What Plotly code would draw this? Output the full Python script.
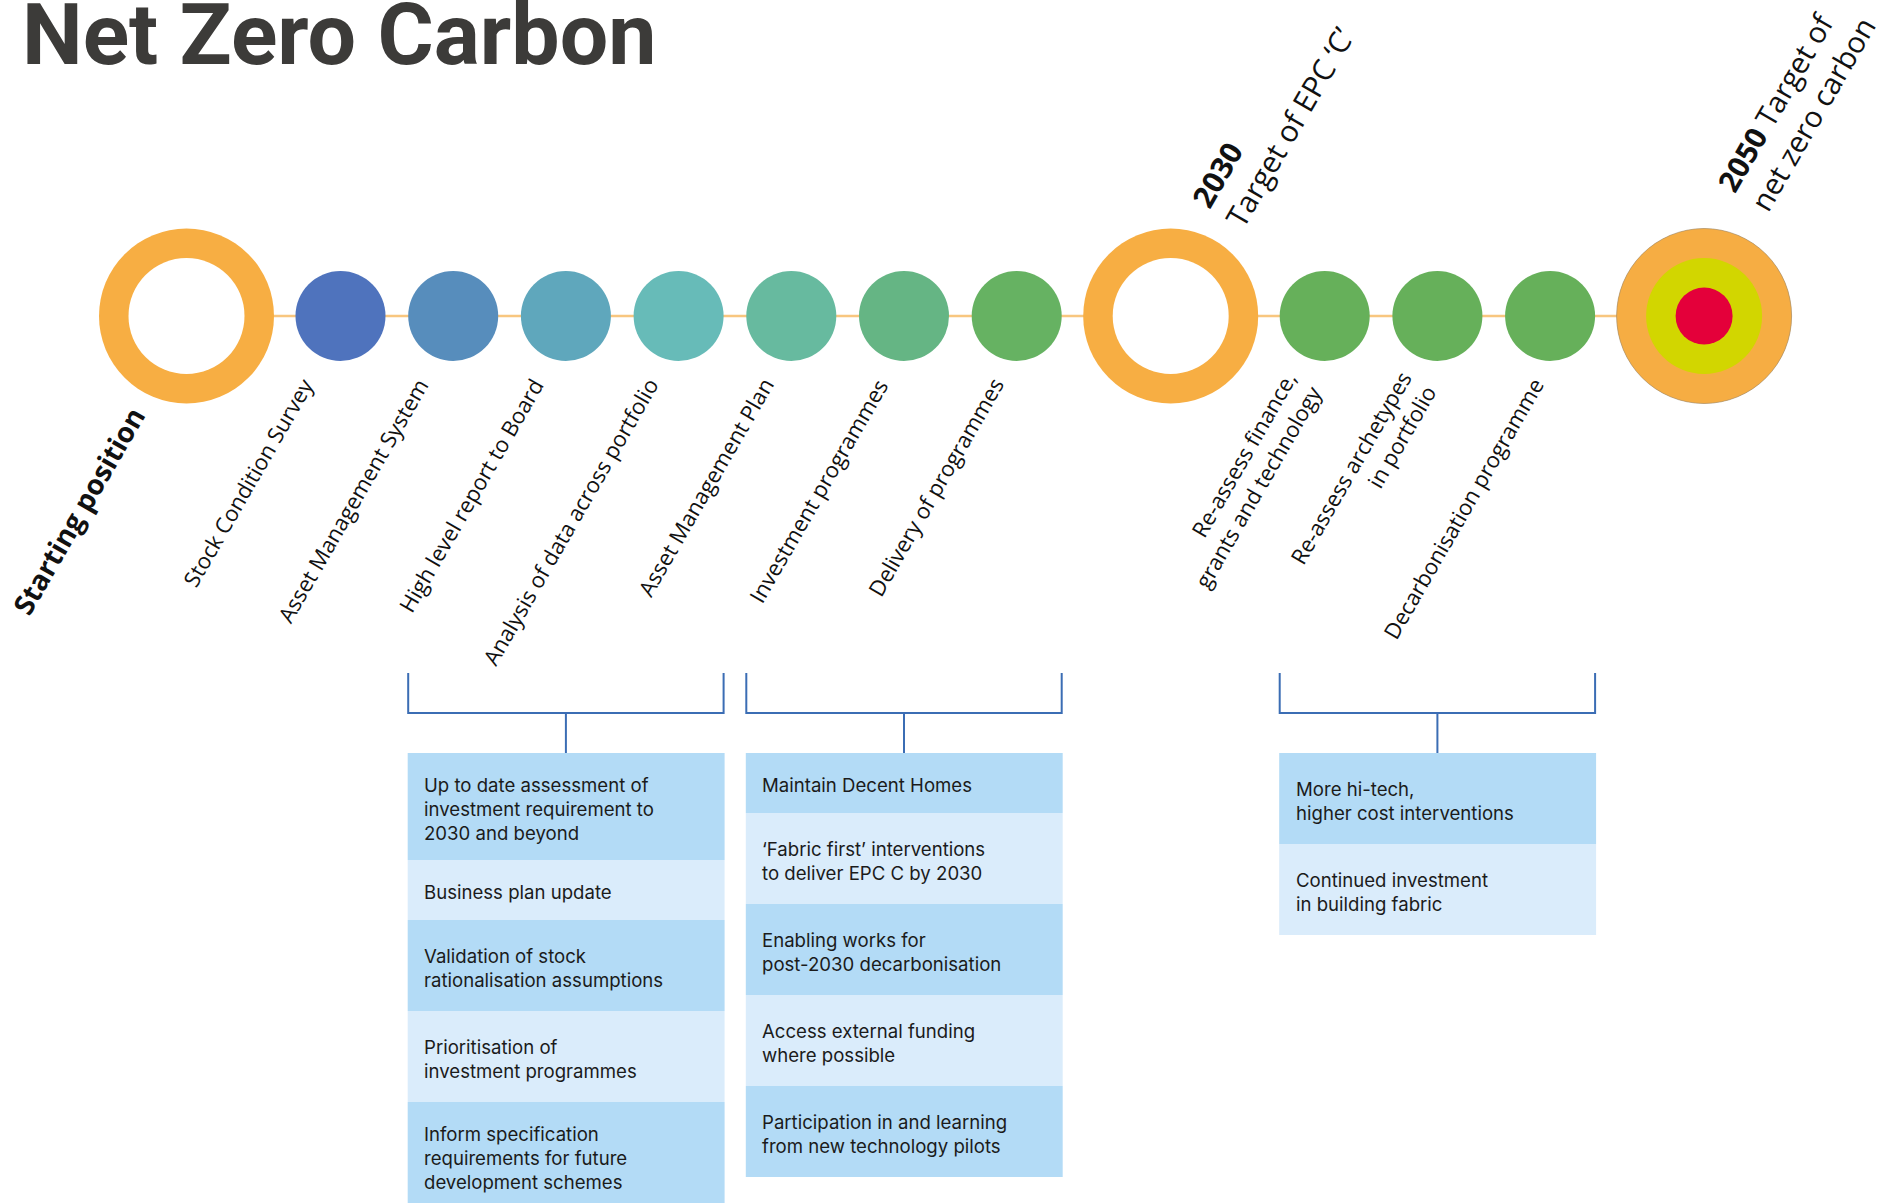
import plotly.graph_objects as go

# ---------------- data ----------------
TITLE = "Net Zero Carbon"

milestone_kinds = ["start", "step", "step", "step", "step", "step", "step", "step",
                   "target", "step", "step", "step", "final"]
milestone_labels = [
    "<b>Starting position</b>",
    "Stock Condition Survey",
    "Asset Management System",
    "High level report to Board",
    "Analysis of data across portfolio",
    "Asset Management Plan",
    "Investment programmes",
    "Delivery of programmes",
    "",
    "Re-assess finance,<br>grants and technology",
    "Re-assess archetypes<br>in portfolio",
    "Decarbonisation programme",
    "",
]
step_colors = ["#f7ae43", "#4f73bd", "#578dbc", "#5fa7bc", "#67bbb8", "#67ba9f", "#65b584",
               "#66b262", "#f7ae43", "#66b05a", "#66b05a", "#66b05a", "#f6ad43"]
target_labels = {
    8: "<b>2030</b><br>Target of EPC ‘C’",
    12: "<b>2050</b> Target of<br>net zero carbon",
}

group_spans = [(2, 4), (5, 7), (9, 11)]
group1_items = [
    "Up to date assessment of<br>investment requirement to<br>2030 and beyond",
    "Business plan update",
    "Validation of stock<br>rationalisation assumptions",
    "Prioritisation of<br>investment programmes",
    "Inform specification<br>requirements for future<br>development schemes",
]
group2_items = [
    "Maintain Decent Homes",
    "‘Fabric first’ interventions<br>to deliver EPC C by 2030",
    "Enabling works for<br>post-2030 decarbonisation",
    "Access external funding<br>where possible",
    "Participation in and learning<br>from new technology pilots",
]
group3_items = [
    "More hi-tech,<br>higher cost interventions",
    "Continued investment<br>in building fabric",
]
groups = [group1_items, group2_items, group3_items]

# ---------------- layout constants ----------------
W, H = 1887, 1203
LINE_Y = 316
R_BIG, R_SMALL = 87.5, 45
GAP_BIG, GAP_SMALL = 21.5, 22.7
LABEL_DRIFT = 2.3          # labels are spaced slightly wider than the circles
X0 = 186.5
LINE_COL = "#f8c67f"
BRACKET_COL = "#3b6db4"
ROW_DARK, ROW_LIGHT = "#b3dbf6", "#daecfb"
ROW_H = {1: 60, 2: 91, 3: 107}
LABEL_FONT = "Open Sans"
BOX_FONT = "Inter"
ANGLE = -60
TOP_OFFSETS = {"target": (9, -R_BIG + 8, 30), "final": (0, -R_BIG - 8, 29.5)}

radii = [R_BIG if k in ("start", "target", "final") else R_SMALL for k in milestone_kinds]
centers = [X0]
for i in range(1, len(radii)):
    gap = GAP_SMALL if (radii[i] == R_SMALL and radii[i - 1] == R_SMALL) else GAP_BIG
    centers.append(centers[-1] + radii[i - 1] + radii[i] + gap)

fig = go.Figure()

# connecting line
fig.add_trace(go.Scatter(x=[centers[0], centers[-1]], y=[LINE_Y, LINE_Y], mode="lines",
                         line=dict(color=LINE_COL, width=2.5), hoverinfo="skip", showlegend=False))

# circles
fig.add_trace(go.Scatter(x=centers, y=[LINE_Y] * len(centers), mode="markers",
                         marker=dict(size=[2 * r for r in radii], color=step_colors, opacity=1,
                                     line=dict(width=0)),
                         hoverinfo="skip", showlegend=False))
ring_idx = [i for i, k in enumerate(milestone_kinds) if k in ("start", "target")]
fig.add_trace(go.Scatter(x=[centers[i] for i in ring_idx], y=[LINE_Y] * len(ring_idx), mode="markers",
                         marker=dict(size=116, color="white", opacity=1, line=dict(width=0)),
                         hoverinfo="skip", showlegend=False))
final_idx = [i for i, k in enumerate(milestone_kinds) if k == "final"]
for i in final_idx:
    fig.add_trace(go.Scatter(x=[centers[i]], y=[LINE_Y], mode="markers",
                             marker=dict(size=2 * R_BIG, color="#f6ad43", opacity=1,
                                         line=dict(width=0.6, color="#9a8a70")),
                             hoverinfo="skip", showlegend=False))
    fig.add_trace(go.Scatter(x=[centers[i]], y=[LINE_Y], mode="markers",
                             marker=dict(size=116, color="#d2d600", opacity=1, line=dict(width=0)),
                             hoverinfo="skip", showlegend=False))
    fig.add_trace(go.Scatter(x=[centers[i]], y=[LINE_Y], mode="markers",
                             marker=dict(size=57, color="#e4003a", opacity=1, line=dict(width=0)),
                             hoverinfo="skip", showlegend=False))

annotations = []
# title
annotations.append(dict(x=20 / W, y=1 + 18 / H, xref="paper", yref="paper", text="<b>" + TITLE + "</b>",
                        showarrow=False, xanchor="left", yanchor="top",
                        font=dict(family="Roboto", size=86, color="#3c3b39", weight=900)))

# milestone labels below
step_no = 0
for i, lab in enumerate(milestone_labels):
    if milestone_kinds[i] == "start":
        annotations.append(dict(x=centers[i] - 31, y=LINE_Y + 82, text=lab, showarrow=False,
                                xanchor="right", yanchor="top", textangle=ANGLE, align="right",
                                font=dict(family=LABEL_FONT, size=28, color="#111111")))
        continue
    if milestone_kinds[i] != "step":
        continue
    nlines = lab.count("<br>") + 1
    dx = -18 + LABEL_DRIFT * step_no + 8 * (nlines - 1)
    dy = 54 - 7 * (nlines - 1)
    annotations.append(dict(x=centers[i] + dx, y=LINE_Y + dy, text=lab, showarrow=False,
                            xanchor="right", yanchor="top", textangle=ANGLE, align="right",
                            font=dict(family=LABEL_FONT, size=22, color="#111111")))
    step_no += 1

# target labels above
for i, lab in target_labels.items():
    odx, ody, fsize = TOP_OFFSETS[milestone_kinds[i]]
    annotations.append(dict(x=centers[i] + odx, y=LINE_Y + ody,
                            text=lab, showarrow=False, xanchor="left", yanchor="bottom",
                            textangle=ANGLE, align="left",
                            font=dict(family=LABEL_FONT, size=fsize, color="#111111")))

shapes = []
BR_TOP, BR_MID, BOX_TOP = 673, 713, 753
for (a, b), items in zip(group_spans, groups):
    x1 = centers[a] - radii[a]
    x2 = centers[b] + radii[b]
    xm = (x1 + x2) / 2
    shapes.append(dict(type="path", path=f"M {x1} {BR_TOP} L {x1} {BR_MID} L {x2} {BR_MID} L {x2} {BR_TOP}",
                       line=dict(color=BRACKET_COL, width=2), xref="x", yref="y"))
    shapes.append(dict(type="line", x0=xm, x1=xm, y0=BR_MID, y1=BOX_TOP,
                       line=dict(color=BRACKET_COL, width=2), xref="x", yref="y"))
    y = BOX_TOP
    for j, txt in enumerate(items):
        n = txt.count("<br>") + 1
        h = ROW_H[n]
        shapes.append(dict(type="rect", x0=x1 - 0.5, x1=x2 + 1, y0=y, y1=y + h,
                           fillcolor=ROW_DARK if j % 2 == 0 else ROW_LIGHT, line=dict(width=0),
                           xref="x", yref="y", layer="below"))
        annotations.append(dict(x=x1 + 14, y=y + h / 2 + 2, text=txt, showarrow=False,
                                xanchor="left", yanchor="middle", align="left",
                                font=dict(family=BOX_FONT, size=18.6, color="#1b1b1b")))
        y += h

fig.update_layout(
    width=W, height=H, margin=dict(l=0, r=0, t=0, b=0),
    paper_bgcolor="white", plot_bgcolor="white",
    xaxis=dict(range=[0, W], visible=False, fixedrange=True),
    yaxis=dict(range=[H, 0], visible=False, fixedrange=True),
    showlegend=False, annotations=annotations, shapes=shapes,
)

fig.write_html("out.html", config={"displayModeBar": False},
               post_script="document.body.style.margin='0';document.body.style.overflow='hidden';")
